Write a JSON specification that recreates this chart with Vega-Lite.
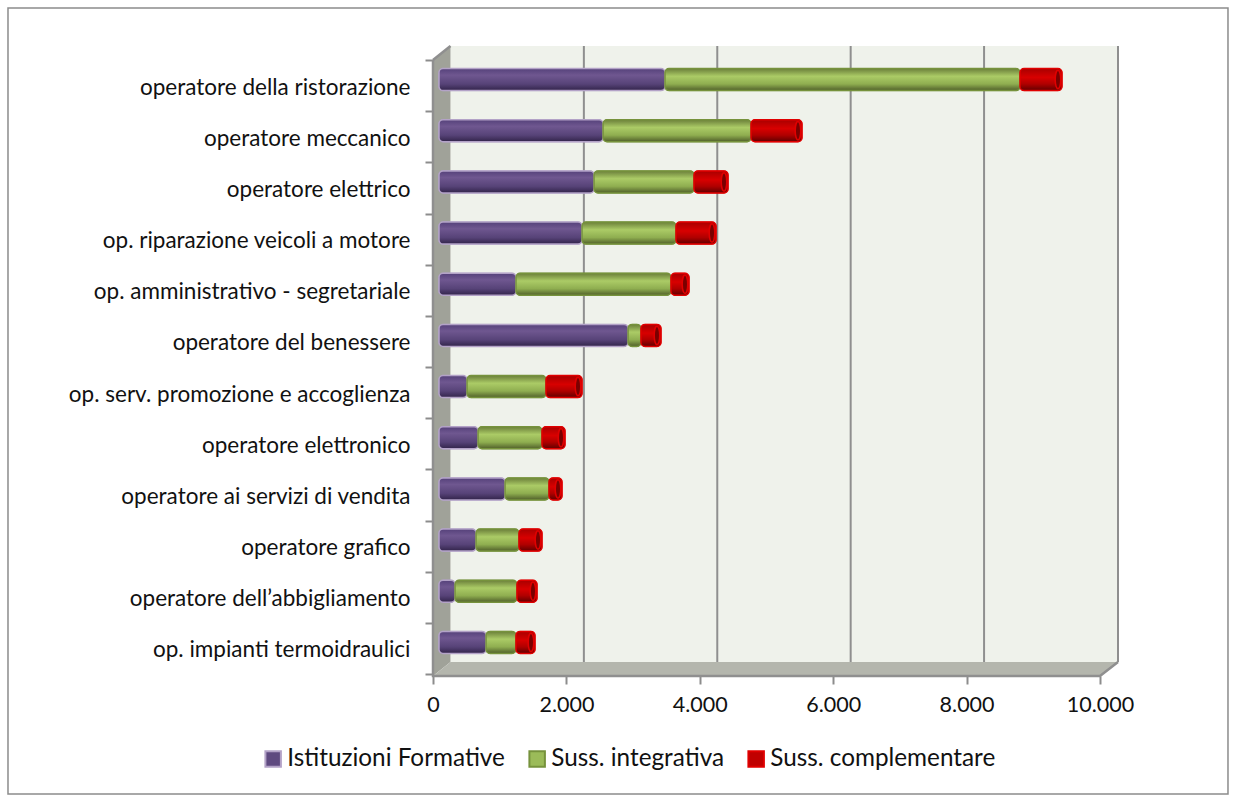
{"$schema":"https://vega.github.io/schema/vega-lite/v6.json","width":685,"height":630,"autosize":{"type":"none"},"padding":{"left":433,"top":46,"right":118,"bottom":126},"background":"white",
"config":{"font":"Lato","view":{"stroke":null},"legend":{"symbolStrokeWidth":2}},
"datasets":{"rows":[
{"cat":"operatore della ristorazione","series":"Istituzioni Formative","ord":1,"value":3388},{"cat":"operatore della ristorazione","series":"Suss. integrativa","ord":2,"value":5323},{"cat":"operatore della ristorazione","series":"Suss. complementare","ord":3,"value":629},
{"cat":"operatore meccanico","series":"Istituzioni Formative","ord":1,"value":2459},{"cat":"operatore meccanico","series":"Suss. integrativa","ord":2,"value":2219},{"cat":"operatore meccanico","series":"Suss. complementare","ord":3,"value":764},
{"cat":"operatore elettrico","series":"Istituzioni Formative","ord":1,"value":2324},{"cat":"operatore elettrico","series":"Suss. integrativa","ord":2,"value":1499},{"cat":"operatore elettrico","series":"Suss. complementare","ord":3,"value":510},
{"cat":"op. riparazione veicoli a motore","series":"Istituzioni Formative","ord":1,"value":2144},{"cat":"op. riparazione veicoli a motore","series":"Suss. integrativa","ord":2,"value":1409},{"cat":"op. riparazione veicoli a motore","series":"Suss. complementare","ord":3,"value":600},
{"cat":"op. amministrativo - segretariale","series":"Istituzioni Formative","ord":1,"value":1154},{"cat":"op. amministrativo - segretariale","series":"Suss. integrativa","ord":2,"value":2324},{"cat":"op. amministrativo - segretariale","series":"Suss. complementare","ord":3,"value":270},
{"cat":"operatore del benessere","series":"Istituzioni Formative","ord":1,"value":2834},{"cat":"operatore del benessere","series":"Suss. integrativa","ord":2,"value":194},{"cat":"operatore del benessere","series":"Suss. complementare","ord":3,"value":300},
{"cat":"op. serv. promozione e accoglienza","series":"Istituzioni Formative","ord":1,"value":420},{"cat":"op. serv. promozione e accoglienza","series":"Suss. integrativa","ord":2,"value":1184},{"cat":"op. serv. promozione e accoglienza","series":"Suss. complementare","ord":3,"value":540},
{"cat":"operatore elettronico","series":"Istituzioni Formative","ord":1,"value":585},{"cat":"operatore elettronico","series":"Suss. integrativa","ord":2,"value":959},{"cat":"operatore elettronico","series":"Suss. complementare","ord":3,"value":345},
{"cat":"operatore ai servizi di vendita","series":"Istituzioni Formative","ord":1,"value":990},{"cat":"operatore ai servizi di vendita","series":"Suss. integrativa","ord":2,"value":659},{"cat":"operatore ai servizi di vendita","series":"Suss. complementare","ord":3,"value":195},
{"cat":"operatore grafico","series":"Istituzioni Formative","ord":1,"value":555},{"cat":"operatore grafico","series":"Suss. integrativa","ord":2,"value":644},{"cat":"operatore grafico","series":"Suss. complementare","ord":3,"value":345},
{"cat":"operatore dell’abbigliamento","series":"Istituzioni Formative","ord":1,"value":240},{"cat":"operatore dell’abbigliamento","series":"Suss. integrativa","ord":2,"value":929},{"cat":"operatore dell’abbigliamento","series":"Suss. complementare","ord":3,"value":300},
{"cat":"op. impianti termoidraulici","series":"Istituzioni Formative","ord":1,"value":705},{"cat":"op. impianti termoidraulici","series":"Suss. integrativa","ord":2,"value":449},{"cat":"op. impianti termoidraulici","series":"Suss. complementare","ord":3,"value":285}
]},
"layer":[
{"data":{"values":[{"x":-6372,"x2":11919,"y":-118,"y2":668}]},"mark":{"type":"rect","fillOpacity":0,"fill":"white","stroke":"#8c8c8c","strokeWidth":1.5},
 "encoding":{"x":{"field":"x","type":"quantitative","title":null,"scale":{"domain":[0,10270],"range":[0,685],"nice":false},"axis":{"values":[0,2000,4000,6000,8000,10000],"grid":false,"domain":false,"tickColor":"#8c8c8c","tickWidth":2,"tickSize":8,"labelFontSize":21.5,"labelColor":"#111","labelPadding":10,"labelExpr":"replace(format(datum.value,','),',','.')","labelFlush":false,"labelOverlap":false}},"x2":{"field":"x2"},"y":{"field":"y","type":"quantitative","title":null,"axis":null,"scale":{"domain":[0,630],"nice":false}},"y2":{"field":"y2"}}},
{"data":{"values":[{"x":262,"x2":10270,"y":14,"y2":630}]},"mark":{"type":"rect","fill":"#eff2eb"},
 "encoding":{"x":{"field":"x","type":"quantitative","title":null},"x2":{"field":"x2"},"y":{"field":"y","type":"quantitative","title":null,"axis":null,"scale":{"domain":[0,630],"nice":false}},"y2":{"field":"y2"}}},
{"data":{"values":[{"x":0,"y":0,"y2":616},{"x":262,"y":14,"y2":630}]},"mark":{"type":"area","fill":"#a0a299","orient":"vertical"},
 "encoding":{"x":{"field":"x","type":"quantitative","title":null},"y":{"field":"y","type":"quantitative","title":null,"axis":null,"scale":{"domain":[0,630],"nice":false},"stack":null},"y2":{"field":"y2"}}},
{"data":{"values":[{"x":0,"y":0,"y2":0},{"x":262,"y":0,"y2":14},{"x":10000,"y":0,"y2":14},{"x":10270,"y":14,"y2":14}]},"mark":{"type":"area","fill":"#b4b6ad","orient":"vertical"},
 "encoding":{"x":{"field":"x","type":"quantitative","title":null},"y":{"field":"y","type":"quantitative","title":null,"axis":null,"scale":{"domain":[0,630],"nice":false},"stack":null},"y2":{"field":"y2"}}},
{"data":{"values":[{"x":2262,"y":14,"y2":630},{"x":4262,"y":14,"y2":630},{"x":6262,"y":14,"y2":630},{"x":8262,"y":14,"y2":630},{"x":10270,"y":14,"y2":630}]},"mark":{"type":"rule","stroke":"#8f8f8f","strokeWidth":2},
 "encoding":{"x":{"field":"x","type":"quantitative","title":null},"y":{"field":"y","type":"quantitative","title":null,"axis":null,"scale":{"domain":[0,630],"nice":false}},"y2":{"field":"y2"}}},
{"data":{"values":[{"e":"a","x":0,"y":616},{"e":"a","x":262,"y":630},{"e":"b","x":0,"y":616},{"e":"b","x":0,"y":0},{"e":"b","x":10000,"y":0},{"e":"b","x":10270,"y":14}]},"mark":{"type":"line","stroke":"#8f8f8f","strokeWidth":2.5,"interpolate":"linear"},
 "encoding":{"detail":{"field":"e"},"order":{"value":0},"x":{"field":"x","type":"quantitative","title":null,"sort":null},"y":{"field":"y","type":"quantitative","title":null,"axis":null,"scale":{"domain":[0,630],"nice":false}}}},
{"data":{"name":"rows"},
 "transform":[{"stack":"value","groupby":["cat"],"sort":[{"field":"ord","order":"ascending"}],"as":["v0","v1"]}],
 "encoding":{"y":{"field":"cat","type":"nominal","title":null,"sort":null,"scale":{"domain":["operatore della ristorazione","operatore meccanico","operatore elettrico","op. riparazione veicoli a motore","op. amministrativo - segretariale","operatore del benessere","op. serv. promozione e accoglienza","operatore elettronico","operatore ai servizi di vendita","operatore grafico","operatore dell’abbigliamento","op. impianti termoidraulici"],"range":[14,628],"paddingInner":0,"paddingOuter":0},"axis":{"domain":false,"tickBand":"extent","tickColor":"#8c8c8c","tickWidth":2,"tickSize":8,"labelFontSize":22.5,"labelColor":"#111","labelPadding":15,"labelLimit":400,"labelOffset":1.5}},
 "x":{"field":"v0","type":"quantitative","title":null},"x2":{"field":"v1"}},
 "layer":[
 {"mark":{"type":"bar","size":22,"cornerRadius":4,"xOffset":6,"x2Offset":6,"yOffset":-6},
  "encoding":{"color":{"field":"series","type":"nominal","sort":["Istituzioni Formative","Suss. integrativa","Suss. complementare"],"title":null,"scale":{"domain":["Istituzioni Formative","Suss. integrativa","Suss. complementare"],"range":["#5f4a80","#9bbb59","#c00000"]},"legend":{"orient":"none","legendX":-172,"legendY":700,"direction":"horizontal","columns":3,"symbolType":"square","symbolSize":240,"labelFontSize":24.3,"labelColor":"#111","columnPadding":20,"labelOffset":2,"labelLimit":300,"clipHeight":26,"symbolOpacity":1}},
  "stroke":{"field":"series","type":"nominal","sort":["Istituzioni Formative","Suss. integrativa","Suss. complementare"],"title":null,"scale":{"domain":["Istituzioni Formative","Suss. integrativa","Suss. complementare"],"range":["#b3a2c7","#76923c","#e00000"]}}}},
 {"transform":[{"filter":"datum.ord==1"}],"mark":{"type":"bar","size":22,"cornerRadius":4,"xOffset":6,"x2Offset":6,"yOffset":-6,"stroke":"#b3a2c7","strokeWidth":1.5,"fill":{"gradient":"linear","x1":0,"y1":0,"x2":0,"y2":1,"stops":[{"offset":0,"color":"#55417a"},{"offset":0.3,"color":"#6f5790"},{"offset":0.7,"color":"#574378"},{"offset":1,"color":"#32244a"}]}}},
 {"transform":[{"filter":"datum.ord==2"}],"mark":{"type":"bar","size":22,"cornerRadius":4,"xOffset":6,"x2Offset":6,"yOffset":-6,"stroke":"#76923c","strokeWidth":1.5,"fill":{"gradient":"linear","x1":0,"y1":0,"x2":0,"y2":1,"stops":[{"offset":0,"color":"#6b7f3a"},{"offset":0.35,"color":"#abcb66"},{"offset":0.7,"color":"#8fae50"},{"offset":1,"color":"#505f2a"}]}}},
 {"transform":[{"filter":"datum.ord==3"}],"mark":{"type":"bar","size":22,"cornerRadius":4,"xOffset":6,"x2Offset":6,"yOffset":-6,"stroke":"#e00000","strokeWidth":1.5,"fill":{"gradient":"linear","x1":0,"y1":0,"x2":0,"y2":1,"stops":[{"offset":0,"color":"#a80000"},{"offset":0.4,"color":"#d80000"},{"offset":0.7,"color":"#b00000"},{"offset":1,"color":"#600000"}]}}},
 {"transform":[{"filter":"datum.ord==3"}],"mark":{"type":"point","filled":true,"shape":"M0,-1A0.3,1,0,0,1,0,1A0.3,1,0,0,1,0,-1Z","size":340,"fill":"#7a0000","stroke":"#e00000","strokeWidth":1.5,"opacity":1,"xOffset":2,"yOffset":-6},
  "encoding":{"x":{"field":"v1","type":"quantitative","title":null},"x2":null}}
 ]}
],
"resolve":{"scale":{"y":"independent"},"axis":{"y":"independent"}}}
